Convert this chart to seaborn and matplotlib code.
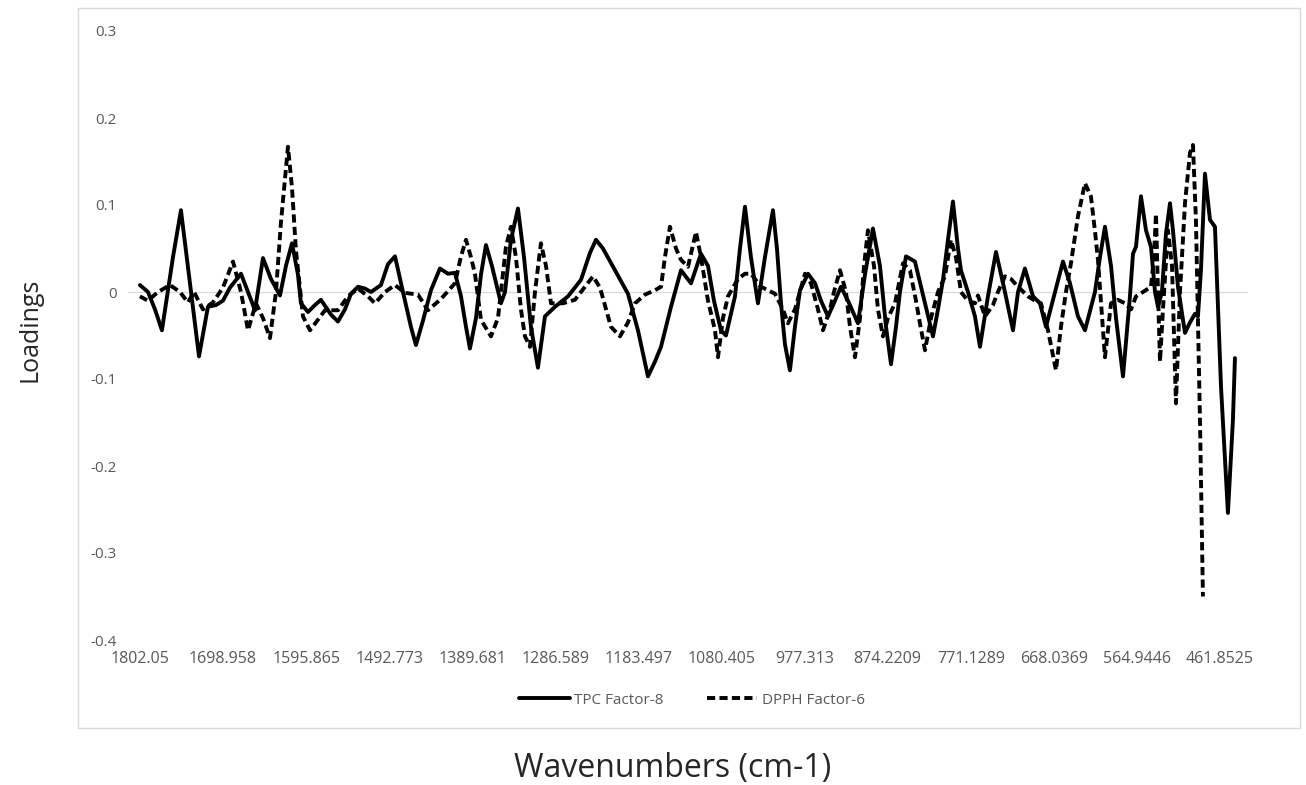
import matplotlib
matplotlib.use("Agg")
import matplotlib.pyplot as plt
import seaborn as sns
import pandas as pd
from matplotlib.patches import Rectangle

# Loadings (wavenumber in cm-1, loading)
tpc_wn = [1802.1, 1792.1, 1783.4, 1774.8, 1761.1, 1751.2, 1740.0, 1728.8, 1717.7, 1707.7,
          1699.1, 1690.4, 1676.7, 1668.0, 1659.3, 1649.4, 1639.5, 1628.3, 1620.9, 1613.4,
          1606.0, 1602.3, 1593.6, 1584.9, 1577.5, 1565.0, 1556.4, 1547.7, 1540.2, 1531.5,
          1522.9, 1515.4, 1503.0, 1494.3, 1485.6, 1475.7, 1465.8, 1459.6, 1450.9, 1441.0,
          1429.8, 1419.9, 1411.2, 1403.7, 1397.5, 1392.6, 1385.1, 1378.9, 1372.7, 1365.3,
          1354.1, 1349.1, 1341.7, 1333.0, 1325.5, 1316.9, 1308.2, 1299.5, 1287.1, 1270.9,
          1254.8, 1243.6, 1236.2, 1227.5, 1212.6, 1196.5, 1184.1, 1171.7, 1163.0, 1155.5,
          1143.1, 1130.7, 1118.3, 1105.9, 1097.2, 1089.8, 1081.1, 1074.9, 1063.7, 1057.5,
          1051.3, 1043.9, 1035.2, 1026.5, 1016.6, 1011.6, 1006.6, 1001.7, 995.5, 989.3,
          983.1, 973.1, 964.4, 957.0, 948.3, 939.6, 932.2, 923.5, 911.1, 902.4,
          892.5, 883.8, 876.3, 870.1, 863.9, 859.0, 851.5, 840.4, 827.9, 818.0,
          811.8, 805.6, 799.4, 793.2, 787.0, 783.3, 774.6, 765.9, 759.7, 749.8,
          739.8, 733.6, 728.7, 718.7, 712.5, 703.9, 693.9, 685.2, 677.8, 666.6,
          656.7, 648.0, 638.1, 629.4, 617.0, 610.8, 604.6, 597.1, 590.9, 582.2,
          573.6, 569.8, 566.1, 559.9, 553.7, 547.5, 542.5, 538.8, 533.9, 528.9,
          523.9, 520.2, 514.0, 505.3, 499.1, 492.9, 489.2, 485.5, 480.5, 474.3,
          468.1, 460.6, 452.0, 445.8, 443.3]
tpc_load = [0.008, 0.0, -0.02, -0.044, 0.04, 0.094, 0.01, -0.074, -0.017, -0.015,
            -0.01, 0.005, 0.021, 0.0, -0.021, 0.039, 0.015, -0.004, 0.03, 0.056,
            0.02, -0.013, -0.023, -0.015, -0.009, -0.026, -0.034, -0.02, -0.002, 0.006,
            0.004, 0.0, 0.008, 0.032, 0.041, 0.0, -0.04, -0.061, -0.033, 0.002,
            0.027, 0.021, 0.022, -0.005, -0.04, -0.065, -0.03, 0.02, 0.054, 0.03,
            -0.013, 0.0, 0.06, 0.096, 0.04, -0.04, -0.087, -0.028, -0.017, -0.005,
            0.014, 0.045, 0.06, 0.05, 0.025, -0.002, -0.044, -0.097, -0.08, -0.063,
            -0.017, 0.025, 0.01, 0.044, 0.03, -0.01, -0.044, -0.05, -0.005, 0.05,
            0.098, 0.04, -0.013, 0.04, 0.094, 0.05, -0.013, -0.06, -0.09, -0.04,
            0.002, 0.021, 0.01, -0.01, -0.028, -0.01, 0.006, -0.01, -0.036, 0.02,
            0.073, 0.03, -0.04, -0.083, -0.04, 0.0, 0.041, 0.035, -0.013, -0.051,
            -0.02, 0.014, 0.06, 0.104, 0.05, 0.025, 0.0, -0.028, -0.063, -0.005,
            0.046, 0.02, 0.0, -0.044, 0.0, 0.027, -0.005, -0.013, -0.04, 0.0,
            0.035, 0.01, -0.028, -0.044, 0.0, 0.04, 0.075, 0.03, -0.03, -0.097,
            -0.005, 0.044, 0.052, 0.11, 0.071, 0.052, 0.0, -0.017, 0.0, 0.067,
            0.102, 0.071, 0.006, -0.047, -0.035, -0.025, -0.028, 0.025, 0.136, 0.083,
            0.075, -0.109, -0.254, -0.147, -0.076]

dpph_wn = [1802.1, 1792.1, 1779.7, 1764.8, 1752.4, 1742.5, 1735.0, 1723.9, 1711.5, 1699.1,
           1686.6, 1676.7, 1668.0, 1658.1, 1649.4, 1640.7, 1633.3, 1627.1, 1618.4, 1613.4,
           1608.5, 1599.8, 1591.1, 1583.7, 1572.5, 1556.4, 1543.9, 1531.5, 1519.1, 1510.4,
           1498.0, 1485.6, 1473.2, 1457.1, 1444.7, 1428.5, 1411.2, 1403.7, 1397.5, 1391.3,
           1386.4, 1378.9, 1366.5, 1357.8, 1347.9, 1341.7, 1335.5, 1329.3, 1324.3, 1318.1,
           1311.9, 1304.5, 1298.2, 1292.0, 1277.2, 1262.3, 1249.9, 1239.9, 1231.2, 1217.6,
           1206.4, 1196.5, 1187.8, 1175.4, 1163.0, 1155.5, 1150.6, 1144.4, 1136.9, 1130.7,
           1122.0, 1112.1, 1105.9, 1097.2, 1088.5, 1084.8, 1078.6, 1072.4, 1060.0, 1051.3,
           1043.9, 1031.5, 1014.1, 1004.2, 998.0, 989.3, 976.8, 969.4, 960.7, 954.5,
           945.8, 940.9, 933.4, 926.0, 921.0, 914.8, 908.6, 903.6, 898.7, 891.2,
           886.3, 880.1, 873.9, 865.2, 855.2, 846.6, 839.1, 834.2, 827.9, 820.5,
           811.8, 803.1, 795.7, 789.5, 783.3, 774.6, 765.9, 762.2, 753.5, 743.6,
           737.4, 728.7, 721.2, 712.5, 700.1, 691.4, 684.0, 675.3, 665.4, 659.2,
           653.0, 646.8, 638.1, 629.4, 622.0, 617.0, 613.3, 607.1, 604.6, 597.1,
           588.5, 579.8, 572.3, 566.1, 557.4, 547.5, 543.8, 541.3, 538.8, 536.3,
           532.6, 526.4, 521.4, 516.5, 511.5, 505.3, 499.1, 495.4, 491.7, 489.2,
           486.7, 483.0]
dpph_load = [-0.005, -0.01, 0.0, 0.008, 0.0, -0.012, 0.0, -0.02, -0.012, 0.005,
             0.035, 0.0, -0.044, -0.013, -0.03, -0.053, 0.0, 0.08, 0.167, 0.12,
             0.048, -0.028, -0.044, -0.035, -0.021, -0.021, -0.005, 0.004, -0.005, -0.013,
             0.0, 0.008, -0.001, -0.003, -0.021, -0.008, 0.01, 0.041, 0.06, 0.04,
             0.021, -0.032, -0.051, -0.03, 0.052, 0.075, 0.04, -0.02, -0.051, -0.063,
             0.0, 0.056, 0.03, -0.013, -0.013, -0.009, 0.006, 0.018, 0.005, -0.04,
             -0.051, -0.035, -0.013, -0.003, 0.002, 0.006, 0.04, 0.075, 0.05, 0.037,
             0.029, 0.069, 0.04, -0.01, -0.044, -0.075, -0.03, -0.005, 0.015, 0.021,
             0.021, 0.006, -0.002, -0.02, -0.036, -0.02, 0.021, 0.01, -0.02, -0.044,
             -0.02, 0.0, 0.025, 0.0, -0.04, -0.075, -0.03, 0.03, 0.071, 0.03,
             -0.02, -0.051, -0.03, -0.013, 0.033, 0.025, -0.01, -0.036, -0.067, -0.03,
             0.0, 0.018, 0.06, 0.04, 0.0, -0.01, -0.013, -0.004, -0.028, -0.015,
             0.0, 0.018, 0.015, 0.006, -0.005, -0.01, -0.013, -0.044, -0.09, -0.04,
             0.0, 0.033, 0.087, 0.125, 0.11, 0.07, 0.037, -0.044, -0.075, -0.013,
             -0.009, -0.013, -0.02, -0.005, 0.0, 0.006, 0.04, 0.09, 0.0, -0.08,
             -0.02, 0.071, 0.03, -0.128, 0.0, 0.102, 0.16, 0.169, 0.083, -0.032,
             -0.147, -0.35]

tick_labels = ["1802.05", "1698.958", "1595.865", "1492.773", "1389.681", "1286.589",
               "1183.497", "1080.405", "977.313", "874.2209", "771.1289", "668.0369",
               "564.9446", "461.8525"]
y_ticks = [0.3, 0.2, 0.1, 0, -0.1, -0.2, -0.3, -0.4]
y_labels = ["0.3", "0.2", "0.1", "0", "-0.1", "-0.2", "-0.3", "-0.4"]

df_tpc = pd.DataFrame({"wn": tpc_wn, "load": tpc_load})
df_dpph = pd.DataFrame({"wn": dpph_wn, "load": dpph_load})

sns.set_theme(style="white")
plt.rcParams["font.family"] = ["Open Sans", "DejaVu Sans"]

W, H = 1306, 785
fig = plt.figure(figsize=(W / 100, H / 100), dpi=100)
ax = fig.add_axes([128 / W, 1 - 640 / H, (1248 - 128) / W, (640 - 31) / H])

# chart frame (Excel style)
fig.patches.append(Rectangle((78 / W, 1 - 728 / H), 1222 / W, 720 / H,
                             transform=fig.transFigure, fill=False,
                             edgecolor="#d9d9d9", linewidth=1.0))

ax.axhline(0, color="#d9d9d9", linewidth=0.9, zorder=0)

sns.lineplot(data=df_tpc, x="wn", y="load", ax=ax, color="black", linewidth=2.8,
             sort=False, estimator=None, label="TPC Factor-8")
sns.lineplot(data=df_dpph, x="wn", y="load", ax=ax, color="black", linewidth=2.8,
             sort=False, estimator=None, label="DPPH Factor-6")
ax.lines[-1].set_dashes((2.1, 1.1))

ax.set_xlim(1816.9, 427.1)
ax.set_ylim(-0.4, 0.3)
ax.set_xticks([float(t) for t in tick_labels])
ax.set_xticklabels(tick_labels)
ax.set_yticks(y_ticks)
ax.set_yticklabels(y_labels)
ax.tick_params(axis="both", length=0, labelcolor="#595959")
ax.tick_params(axis="x", pad=8, labelsize=11.5)
ax.tick_params(axis="y", pad=8, labelsize=11)
for s in ax.spines.values():
    s.set_visible(False)
ax.set_xlabel("")
ax.set_ylabel("")

handles, labels = ax.get_legend_handles_labels()
ax.get_legend().remove()
leg = fig.legend(handles, labels, loc="center", bbox_to_anchor=(692 / W, 1 - 700 / H),
                 ncol=2, frameon=False, fontsize=11, handlelength=3.3,
                 columnspacing=2.8, handletextpad=0.3)
for t in leg.get_texts():
    t.set_color("#595959")

fig.text(30 / W, 1 - 330 / H, "Loadings", rotation=90, ha="center", va="center",
         fontsize=18, color="#262626")
fig.text(673 / W, 1 - 768 / H, "Wavenumbers (cm-1)", ha="center", va="center",
         fontsize=23, color="#262626")

fig.savefig("out.png", dpi=100)
